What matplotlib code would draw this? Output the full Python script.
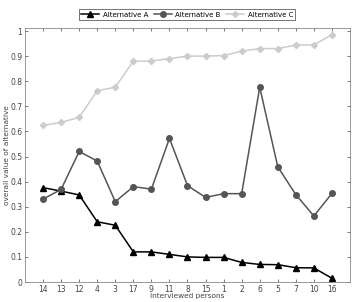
import matplotlib
matplotlib.use("Agg")
import matplotlib.pyplot as plt

persons = ["14", "13", "12", "4", "3", "17", "9", "11", "8", "15", "1", "2", "6", "5", "7", "10", "16"]
alt_a = [0.376, 0.362, 0.347, 0.240, 0.226, 0.120, 0.120, 0.110, 0.100, 0.098, 0.098, 0.078, 0.070, 0.069, 0.057, 0.056, 0.015]
alt_b = [0.330, 0.369, 0.520, 0.482, 0.320, 0.380, 0.370, 0.572, 0.384, 0.337, 0.352, 0.352, 0.776, 0.459, 0.348, 0.263, 0.353]
alt_c = [0.624, 0.636, 0.656, 0.762, 0.776, 0.880, 0.880, 0.890, 0.900, 0.900, 0.902, 0.920, 0.930, 0.930, 0.944, 0.945, 0.985]
yticks = [0, 0.1, 0.2, 0.3, 0.4, 0.5, 0.6, 0.7, 0.8, 0.9, 1]
ytick_labels = ["0", "0.1", "0.2", "0.3", "0.4", "0.5", "0.6", "0.7", "0.8", "0.9", "1"]

fig = plt.figure(figsize=(3.54, 3.02), dpi=100)
ax = fig.add_axes([25/354, 1-282/302, (350-25)/354, (282-28)/302])

x = list(range(1, len(persons) + 1))
ax.plot(x, alt_a, color="black", marker="^", markersize=3.8, lw=1.1, label="Alternative A")
ax.plot(x, alt_b, color="#555555", marker="o", markersize=4.0, lw=1.1, label="Alternative B")
ax.plot(x, alt_c, color="#cccccc", marker="D", markersize=3.1, lw=1.1, label="Alternative C")

ax.set_xlim(0, 18)
ax.set_ylim(0, 1.012)
ax.set_xticks(x)
ax.set_xticklabels(persons)
ax.set_yticks(yticks)
ax.set_yticklabels(ytick_labels)
ax.tick_params(direction="in", length=2.5, width=0.5, labelsize=5.5, colors="#444444",
               top=True, right=True, pad=2)
for s in ax.spines.values():
    s.set_color("#888888")
    s.set_linewidth(0.6)
ax.set_xlabel("Interviewed persons", fontsize=5.3, color="#444444", va="center")
ax.set_ylabel("overall value of alternative", fontsize=5.3, color="#444444", va="center")
ax.xaxis.set_label_coords(0.5, -14/254)
ax.yaxis.set_label_coords(-18/325, 0.5)

leg = fig.legend(loc="upper center", bbox_to_anchor=(187/354, 1-6/302), ncol=3, fontsize=5,
                 frameon=True, fancybox=False, edgecolor="#333333", handlelength=2.6,
                 columnspacing=0.8, handletextpad=0.5, borderpad=0.3)
leg.get_frame().set_linewidth(0.6)

fig.savefig("out.png", dpi=100)
